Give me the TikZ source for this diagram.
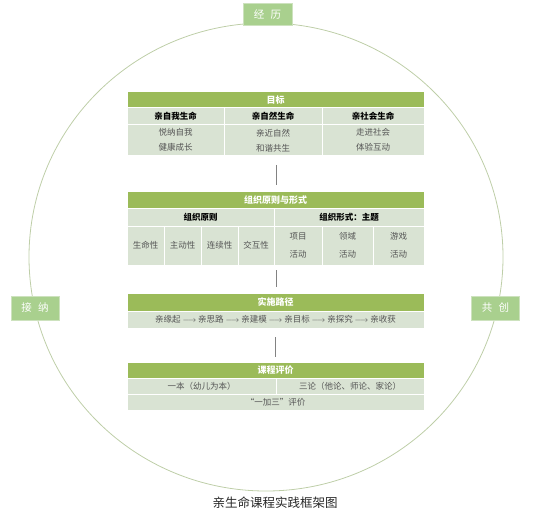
\documentclass[tikz,border=0pt]{standalone}
\usepackage{fontspec}
\setmainfont{Noto Sans CJK SC}
\definecolor{hdr}{RGB}{155,187,89}
\definecolor{rowc}{RGB}{217,227,211}
\definecolor{tagc}{RGB}{169,208,142}
\definecolor{tagb}{RGB}{205,226,190}
\definecolor{ringc}{RGB}{190,206,168}
\definecolor{linec}{RGB}{130,130,130}
\definecolor{txt}{RGB}{85,85,85}
\newcommand\mycell[7]{\node[#2, minimum width={#5-#3}, minimum height={#6-#4}] (#1) at (#3,#4) {#7};}
\newcommand\cjkstrut{\vphantom{国}}
\begin{document}
\begin{tikzpicture}[x=1pt,y=-1pt,
  cell/.style={draw=white, line width=1pt, inner sep=0pt, outer sep=0pt, anchor=north west, align=center},
  head/.style={cell, fill=hdr, text=white, font=\fontsize{9}{10}\selectfont\bfseries},
  sub/.style={cell, fill=rowc, text=black, font=\fontsize{8.5}{10}\selectfont\bfseries},
  body/.style={cell, fill=rowc, text=txt, font=\fontsize{8.5}{15}\selectfont},
  bodyb/.style={cell, fill=rowc, text=txt, font=\fontsize{8.5}{17.5}\selectfont},
  tag/.style={fill=tagc, draw=tagb, line width=0.8pt, text=white, inner sep=0pt, minimum width=48pt, minimum height=24pt, font=\fontsize{10.5}{12}\selectfont},
  link/.style={draw=linec, line width=0.9pt}
]
\useasboundingbox (0,0) rectangle (543,513);
\draw[ringc, line width=0.8pt] (266,257) ellipse [x radius=237, y radius=234];
% tags
\node[tag, minimum width=49pt, minimum height=22pt] (jl) at (267.5,14) {经\hspace{0.6em}历};
\node[tag] (jn) at (35,308) {接\hspace{0.6em}纳};
\node[tag] (gc) at (495.5,308) {共\hspace{0.6em}创};
% table 1
\mycell{t1h}{head}{127}{92}{424}{107.5}{目标}
\mycell{t1a}{sub}{127}{107.5}{224}{124.5}{亲自我生命}
\mycell{t1b}{sub}{224}{107.5}{322}{124.5}{亲自然生命}
\mycell{t1c}{sub}{322}{107.5}{424}{124.5}{亲社会生命}
\mycell{t1d}{body}{127}{124.5}{224}{156}{\cjkstrut 悦纳自我\\健康成长\cjkstrut}
\mycell{t1e}{body}{224}{124.5}{322}{156}{\cjkstrut 亲近自然\\和谐共生\cjkstrut}
\mycell{t1f}{body}{322}{124.5}{424}{156}{\cjkstrut 走进社会\\体验互动\cjkstrut}
% table 2
\mycell{t2h}{head}{127}{192}{424}{208}{组织原则与形式}
\mycell{t2a}{sub}{127}{208}{274}{226}{组织原则}
\mycell{t2b}{sub}{274}{208}{424}{226}{组织形式：主题}
\mycell{t2c}{bodyb}{127}{226}{164}{265}{生命性}
\mycell{t2d}{bodyb}{164}{226}{201}{265}{主动性}
\mycell{t2e}{bodyb}{201}{226}{238}{265}{连续性}
\mycell{t2f}{bodyb}{238}{226}{274}{265}{交互性}
\mycell{t2g}{bodyb}{274}{226}{322}{265}{\cjkstrut 项目\\活动\cjkstrut}
\mycell{t2i}{bodyb}{322}{226}{373}{265}{\cjkstrut 领域\\活动\cjkstrut}
\mycell{t2j}{bodyb}{373}{226}{424}{265}{\cjkstrut 游戏\\活动\cjkstrut}
% table 3
\mycell{t3h}{head}{127}{293}{424}{311}{实施路径}
\mycell{t3a}{body}{127}{311}{424}{328.5}{亲缘起 $\longrightarrow$ 亲思路 $\longrightarrow$ 亲建模 $\longrightarrow$ 亲目标 $\longrightarrow$ 亲探究 $\longrightarrow$ 亲收获}
% table 4
\mycell{t4h}{head}{127}{362}{424}{378}{课程评价}
\mycell{t4a}{body}{127}{378}{276}{394}{一本（幼儿为本）}
\mycell{t4b}{body}{276}{378}{424}{394}{三论（他论、师论、家论）}
\mycell{t4c}{body}{127}{394}{424}{410}{“一加三”评价}
% connectors
\coordinate (k1a) at (276,165); \coordinate (k1b) at (276,185);
\coordinate (k2a) at (276,270); \coordinate (k2b) at (276,287);
\coordinate (k3a) at (275,337); \coordinate (k3b) at (275,357);
\draw[link] (k1a) -- (k1b);
\draw[link] (k2a) -- (k2b);
\draw[link] (k3a) -- (k3b);
% caption
\node[font=\fontsize{12.5}{14}\selectfont, text={rgb,255:red,40;green,40;blue,40}] (cap) at (275,502.5) {亲生命课程实践框架图};
\end{tikzpicture}
\end{document}
